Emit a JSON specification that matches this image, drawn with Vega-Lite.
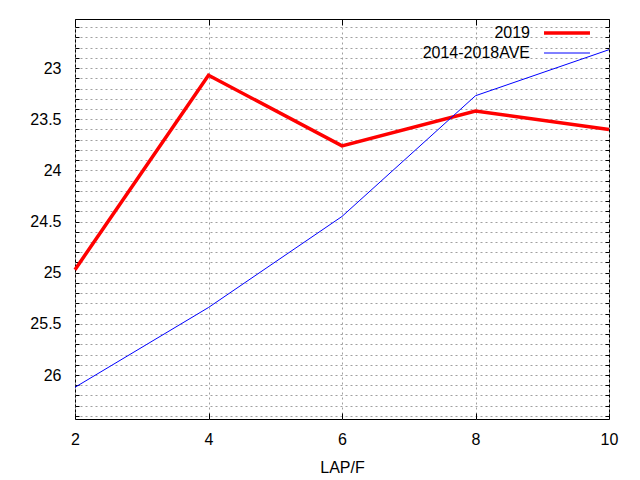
{
  "$schema": "https://vega.github.io/schema/vega-lite/v6.json",
  "width": 534,
  "height": 400,
  "autosize": "none",
  "padding": {"left": 75, "top": 19, "right": 31, "bottom": 61},
  "background": "white",
  "config": {
    "view": {"stroke": "black", "strokeWidth": 1},
    "font": "Liberation Sans",
    "axis": {
      "labelFont": "Liberation Sans",
      "titleFont": "Liberation Sans",
      "labelFontSize": 16,
      "titleFontSize": 16,
      "titleFontWeight": "normal",
      "labelColor": "black",
      "titleColor": "black",
      "labelFlush": false,
      "domain": false,
      "tickColor": "black",
      "gridColor": "#a0a0a0",
      "gridDash": [2, 3],
      "gridOpacity": 1
    }
  },
  "data": {
    "values": [
      {"lap": 2, "series": "2019", "value": 24.97},
      {"lap": 4, "series": "2019", "value": 23.07},
      {"lap": 6, "series": "2019", "value": 23.76},
      {"lap": 8, "series": "2019", "value": 23.42},
      {"lap": 10, "series": "2019", "value": 23.6},
      {"lap": 2, "series": "2014-2018AVE", "value": 26.12},
      {"lap": 4, "series": "2014-2018AVE", "value": 25.34},
      {"lap": 6, "series": "2014-2018AVE", "value": 24.45},
      {"lap": 8, "series": "2014-2018AVE", "value": 23.27},
      {"lap": 10, "series": "2014-2018AVE", "value": 22.82}
    ]
  },
  "layer": [
    {
      "mark": {"type": "line", "opacity": 0},
      "encoding": {
        "x": {
          "field": "lap", "type": "quantitative",
          "scale": {"domain": [2, 10], "nice": false, "zero": false},
          "axis": {"orient": "top", "values": [2, 4, 6, 8, 10], "labels": false, "grid": false, "tickSize": -6, "title": null}
        },
        "y": {
          "field": "value", "type": "quantitative",
          "scale": {"domain": [22.52, 26.43], "nice": false, "zero": false, "reverse": true},
          "axis": {
            "orient": "right",
            "values": [22.6, 22.7, 22.8, 22.9, 23, 23.1, 23.2, 23.3, 23.4, 23.5, 23.6, 23.7, 23.8, 23.9, 24, 24.1, 24.2, 24.3, 24.4, 24.5, 24.6, 24.7, 24.8, 24.9, 25, 25.1, 25.2, 25.3, 25.4, 25.5, 25.6, 25.7, 25.8, 25.9, 26, 26.1, 26.2, 26.3, 26.4],
            "labels": false, "grid": false, "tickSize": -4, "title": null
          }
        },
        "detail": {"field": "series", "type": "nominal"}
      }
    },
    {
      "mark": {"type": "line", "strokeCap": "butt", "strokeJoin": "miter"},
      "encoding": {
        "x": {
          "field": "lap", "type": "quantitative",
          "axis": {"values": [2, 4, 6, 8, 10], "grid": true, "tickSize": -6, "labelPadding": 18, "title": "LAP/F", "titlePadding": 12}
        },
        "y": {
          "field": "value", "type": "quantitative",
          "axis": {
            "values": [22.6, 22.7, 22.8, 22.9, 23, 23.1, 23.2, 23.3, 23.4, 23.5, 23.6, 23.7, 23.8, 23.9, 24, 24.1, 24.2, 24.3, 24.4, 24.5, 24.6, 24.7, 24.8, 24.9, 25, 25.1, 25.2, 25.3, 25.4, 25.5, 25.6, 25.7, 25.8, 25.9, 26, 26.1, 26.2, 26.3, 26.4],
            "labelExpr": "abs(datum.value * 2 - round(datum.value * 2)) < 0.001 ? format(datum.value, '') : ''",
            "grid": true, "tickSize": -4, "labelPadding": 18, "title": null
          }
        },
        "color": {
          "field": "series", "type": "nominal",
          "scale": {"domain": ["2019", "2014-2018AVE"], "range": ["#ff0000", "#0000ff"]},
          "legend": {
            "title": null,
            "orient": "none",
            "legendX": 484,
            "legendY": 6,
            "symbolType": "M-4,0H4",
            "symbolSize": 132,
            "labelAlign": "right",
            "labelOffset": -45,
            "labelFont": "Liberation Sans",
            "labelFontSize": 16,
            "labelColor": "black",
            "rowPadding": 4
          }
        },
        "strokeWidth": {
          "field": "series", "type": "nominal",
          "scale": {"domain": ["2019", "2014-2018AVE"], "range": [3.5, 1]},
          "legend": null
        }
      }
    }
  ],
  "resolve": {"axis": {"x": "independent", "y": "independent"}}
}
